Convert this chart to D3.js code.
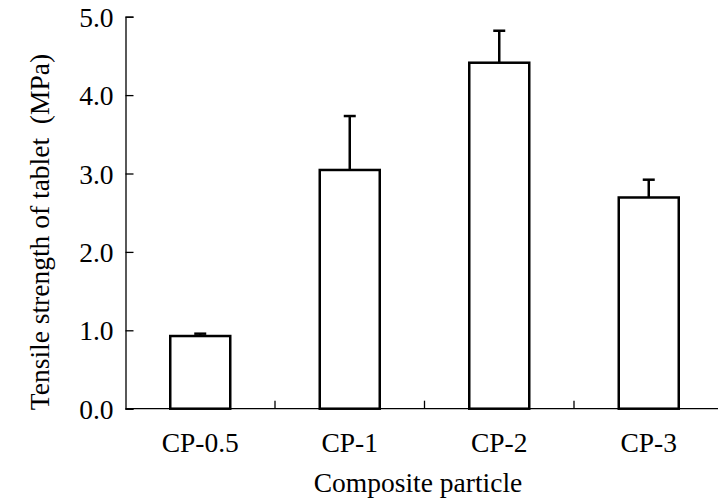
<!DOCTYPE html>
<meta charset="utf-8">
<script src="https://d3js.org/d3.v7.min.js"></script>
<style>
  body { margin: 0; background: #fff; }
  svg text { font-family: "Liberation Serif", "Times New Roman", serif; fill: #000; }
</style>
<div id="chart"></div>
<script>
  // data
  var categories = ["CP-0.5", "CP-1", "CP-2", "CP-3"];
  var strength = [0.927, 3.045, 4.413, 2.694];
  var errors = [0.03, 0.688, 0.408, 0.227];
  var yTicks = [0, 1, 2, 3, 4, 5];

  var W = 718, H = 504;
  var plotLeft = 125.5, plotBottom = 408.7, plotTop = 16.7, plotRight = 723.5;

  var svg = d3.select("#chart").append("svg")
    .attr("width", W)
    .attr("height", H);

  var x = d3.scaleBand()
    .domain(categories)
    .range([plotLeft, plotRight]);

  var y = d3.scaleLinear()
    .domain([0, 5])
    .range([plotBottom, plotTop]);

  var barW = 60;

  // bars
  svg.append("g").selectAll("rect")
    .data(categories)
    .enter()
    .append("rect")
    .attr("x", function (d) { return x(d) + x.bandwidth() / 2 - barW / 2; })
    .attr("y", function (d, i) { return y(strength[i]); })
    .attr("width", barW)
    .attr("height", function (d, i) { return y(0) - y(strength[i]); })
    .attr("fill", "#fff")
    .attr("stroke", "#000")
    .attr("stroke-width", 2.5);

  // error bars (upper only)
  var err = svg.append("g").attr("stroke", "#000").attr("stroke-width", 2.5);
  categories.forEach(function (d, i) {
    var cx = x(d) + x.bandwidth() / 2;
    err.append("line")
      .attr("x1", cx).attr("x2", cx)
      .attr("y1", y(strength[i])).attr("y2", y(strength[i] + errors[i]));
    err.append("line")
      .attr("x1", cx - 6).attr("x2", cx + 6)
      .attr("y1", y(strength[i] + errors[i])).attr("y2", y(strength[i] + errors[i]));
  });

  // Y axis, ticks pointing inside
  var yAxis = svg.append("g")
    .attr("transform", "translate(" + plotLeft + ",0)")
    .call(d3.axisRight(y).tickValues(yTicks).tickSize(8).tickFormat(d3.format(".1f")));
  yAxis.select(".domain").attr("stroke", "#000").attr("stroke-width", 1.3);
  yAxis.selectAll(".tick line").attr("stroke", "#000").attr("stroke-width", 1.3);
  yAxis.selectAll(".tick text")
    .attr("x", -12)
    .attr("dy", "0.35em")
    .attr("text-anchor", "end")
    .style("font-size", "27.5px");

  // X axis, ticks on category boundaries pointing up
  svg.append("line")
    .attr("x1", plotLeft).attr("x2", plotRight)
    .attr("y1", plotBottom).attr("y2", plotBottom)
    .attr("stroke", "#000").attr("stroke-width", 1.3);
  svg.append("g").selectAll("line")
    .data(categories.slice(1))
    .enter()
    .append("line")
    .attr("x1", function (d) { return x(d); })
    .attr("x2", function (d) { return x(d); })
    .attr("y1", plotBottom).attr("y2", plotBottom - 8)
    .attr("stroke", "#000").attr("stroke-width", 1.3);

  svg.append("g").selectAll("text")
    .data(categories)
    .enter()
    .append("text")
    .attr("x", function (d) { return x(d) + x.bandwidth() / 2; })
    .attr("y", 452)
    .attr("text-anchor", "middle")
    .style("font-size", "27.5px")
    .text(function (d) { return d; });

  // axis titles
  svg.append("text")
    .attr("x", 418)
    .attr("y", 492)
    .attr("text-anchor", "middle")
    .style("font-size", "27.5px")
    .text("Composite particle");

  svg.append("text")
    .attr("transform", "translate(49,232) rotate(-90)")
    .attr("text-anchor", "middle")
    .style("font-size", "27.5px")
    .style("white-space", "pre")
    .text("Tensile strength of tablet  (MPa)");
</script>
